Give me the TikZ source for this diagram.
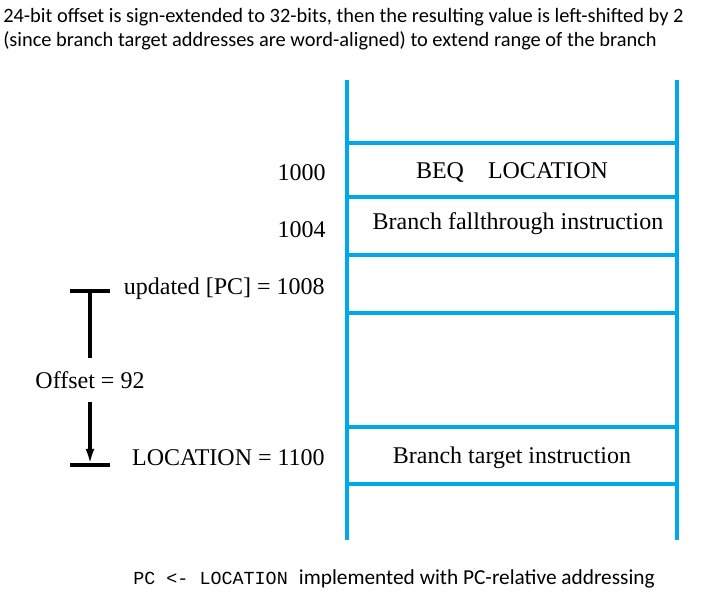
\documentclass[tikz,border=0pt]{standalone}
\usepackage{fontspec}
\setmainfont{Liberation Serif}
\newfontfamily\notefont{Carlito}
\newfontfamily\codefont{Liberation Mono}
\usetikzlibrary{arrows,arrows.meta,shapes}
\definecolor{memblue}{RGB}{0,168,232}
\tikzstyle{addr}=[anchor=east,inner sep=0pt,font=\fontsize{18}{20}\selectfont]
\tikzstyle{cell}=[inner sep=0pt,font=\fontsize{18}{20}\selectfont]
\tikzstyle{note}=[anchor=west,inner sep=0pt,align=left,font=\notefont\fontsize{15.3}{18}\selectfont]
\tikzstyle{wall}=[draw=memblue,line width=3pt]
\tikzstyle{tick}=[draw,line width=2.6pt,-]

\begin{document}
\begin{tikzpicture}[x=0.75pt,y=-0.75pt]
    \useasboundingbox (0,0) rectangle (726,609);
    % Note on top
    \node[note] (head) at (3,29) {24-bit offset is sign-extended to 32-bits, then the resulting value is left-shifted by 2\\(since branch target addresses are word-aligned) to extend range of the branch};
    % Draw the memory column
    \path[wall] (347,80) -- (347,540);
    \path[wall] (677,80) -- (677,540);
    \foreach \y in {143,197,255,313,427,484}
        \path[wall] (347,\y) -- (677,\y);
    % Addresses on the left
    \foreach \pos/\name/\text in {{(326,173)/a1000/1000}, {(326,230)/a1004/1004},
        {(325,289)/pc/updated [PC] = 1008}, {(325,458)/loc/LOCATION = 1100}}
        \node[addr] (\name) at \pos {\text};
    % Contents of the words
    \foreach \pos/\name/\text in {{(512,173)/beq/BEQ\quad LOCATION}, {(518,224)/fall/Branch fallthrough instruction},
        {(512,458)/target/Branch target instruction}}
        \node[cell] (\name) at \pos {\text};
    % Offset between PC and target
    \coordinate (offtop) at (90,291);
    \coordinate (offbot) at (90,465);
    \node[cell,inner ysep=10pt] (offset) at (90,380) {Offset = 92};
    \path[tick] ([xshift=-15pt]offtop) -- ([xshift=15pt]offtop);
    \path[tick] ([xshift=-15pt]offbot) -- ([xshift=15pt]offbot);
    \path[tick] (offtop) -- (offset);
    \path[tick,-{Latex[length=12pt,width=6.5pt]}] (offset) -- (offbot);
    % Note at the bottom
    \node[note] (foot) at (133,579) {\codefont\fontsize{13.8}{16}\selectfont PC <- LOCATION \notefont\fontsize{16}{18}\selectfont implemented with PC-relative addressing};
\end{tikzpicture}
\end{document}
